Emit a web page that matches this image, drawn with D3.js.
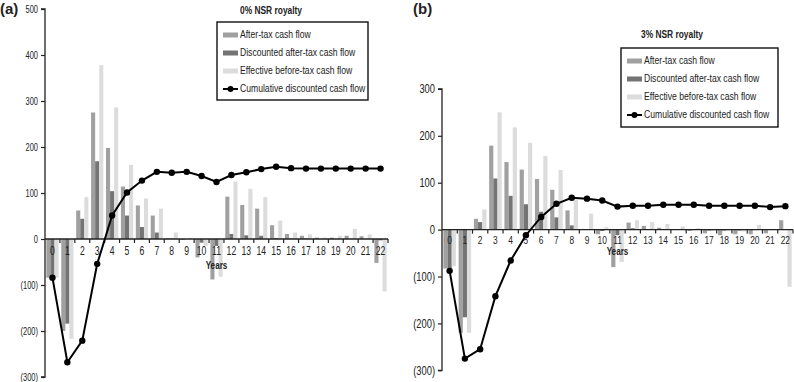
<!DOCTYPE html>
<html>
<head>
<meta charset="utf-8">
<script src="https://cdn.jsdelivr.net/npm/d3@7/dist/d3.min.js"></script>
<style>
  html, body { margin: 0; padding: 0; background: #fff; }
  svg { display: block; }
  text { font-family: "Liberation Sans", Arial, sans-serif; fill: #222; }
</style>
</head>
<body>
<svg id="chart" width="794" height="382"></svg>
<script>
const years = d3.range(0, 23).map(String);
const seriesNames = ["After-tax cash flow", "Discounted after-tax cash flow", "Effective before-tax cash flow", "Cumulative discounted cash flow"];
const seriesColors = ["#a0a0a0", "#747474", "#dcdcdc"];

// Panel (a): 0% NSR royalty
const a_afterTax   = [-84, -200, 62, 275, 198, 114, 73, 51, 2, -2, -40, -88, 92, 74, 66, 30, 11, 7, 3, 3, 7, 6, -52];
const a_discounted = [-80, -184, 44, 169, 104, 51, 26, 14, 1, 0, -8, -15, 11, 8, 7, 2, 1, 1, 0, 0, 0, 0, -3];
const a_effective  = [-84, -217, 91, 378, 286, 161, 88, 66, 14, 2, -15, -82, 125, 109, 91, 40, 14, 10, 3, 7, 22, 10, -114];
const a_cumulative = [-84, -268, -221, -54, 51, 101, 127, 146, 144, 146, 137, 124, 139, 145, 152, 157, 154, 153, 153, 153, 153, 153, 153];
const a_yTicks = [500, 400, 300, 200, 100, 0, -100, -200, -300];

// Panel (b): 3% NSR royalty
const b_afterTax   = [-83, -220, 23, 179, 144, 128, 108, 85, 41, -1, -10, -80, 15, 8, 4, 1, -3, -8, -12, -10, -10, -8, 20];
const b_discounted = [-83, -187, 16, 109, 72, 54, 38, 26, 9, 0, -3, -12, 3, 1, 1, 0, -1, -2, -2, -2, -1, -1, 1];
const b_effective  = [-78, -220, 43, 250, 218, 185, 157, 127, 64, 34, 5, -69, 20, 16, 12, 7, 3, -3, -2, -4, 10, 0, -122];
const b_cumulative = [-88, -275, -255, -142, -66, -12, 27, 55, 68, 66, 62, 49, 51, 51, 53, 53, 53, 51, 51, 51, 51, 48, 50];
const b_yTicks = [300, 200, 100, 0, -100, -200, -300];

const svg = d3.select("#chart");

function fmt(v) { return v < 0 ? "(" + Math.abs(v) + ")" : String(v); }

// emulate a condensed face: scale each text horizontally about its anchor x
function condense(sel, factor) {
  sel.each(function () {
    const t = d3.select(this);
    const ax = +t.attr("x") || 0;
    t.attr("transform", `translate(${ax},0) scale(${factor},1) translate(${-ax},0)`);
  });
}

function drawPanel(cfg) {
  const g = svg.append("g");
  const x = d3.scaleBand().domain(years).range([cfg.x0, cfg.x1]).paddingInner(0.18).paddingOuter(0.09);
  const xs = d3.scaleBand().domain([0, 1, 2]).range([0, x.bandwidth()]);
  const y = d3.scaleLinear().domain([cfg.yMin, cfg.yMax]).range([cfg.yBottom, cfg.yTop]);
  const step = x.step();
  const left = cfg.x0;

  // bars
  const series = [cfg.afterTax, cfg.discounted, cfg.effective];
  series.forEach((vals, si) => {
    g.append("g").selectAll("rect").data(vals).join("rect")
      .attr("x", (d, i) => x(years[i]) + xs(si))
      .attr("width", xs.bandwidth())
      .attr("y", d => y(Math.max(0, d)))
      .attr("height", d => Math.abs(y(d) - y(0)))
      .attr("fill", seriesColors[si]);
  });

  // y axis
  const yAxis = d3.axisLeft(y).tickValues(cfg.yTicks).tickFormat(fmt).tickSize(4).tickPadding(3);
  const ya = g.append("g").attr("transform", `translate(${left},0)`).call(yAxis);
  ya.select(".domain").attr("stroke", "#222").attr("stroke-width", 1.3).attr("d", `M-4,${y(cfg.yMax)}H0V${y(cfg.yMin)}H-4`);
  ya.selectAll(".tick line").attr("stroke", "#222").attr("stroke-width", 1.2);
  ya.selectAll(".tick text").style("font-size", cfg.yFont + "px").style("font-family", "'Liberation Sans', Arial, sans-serif").attr("fill", "#222")
    .call(condense, 0.75);

  // x axis at zero
  const y0 = y(0);
  g.append("line").attr("x1", left).attr("x2", cfg.x1).attr("y1", y0).attr("y2", y0)
    .attr("stroke", "#222").attr("stroke-width", 1.4);
  const bounds = d3.range(1, years.length + 1).map(i => left + i * step);
  g.append("g").selectAll("line").data(bounds).join("line")
    .attr("x1", d => d).attr("x2", d => d).attr("y1", y0).attr("y2", y0 + 4)
    .attr("stroke", "#222").attr("stroke-width", 1.2);
  g.append("g").selectAll("text").data(years).join("text")
    .attr("x", d => x(d) + x.bandwidth() / 2)
    .attr("y", y0 + cfg.xLabelDy)
    .attr("text-anchor", "middle")
    .attr("dominant-baseline", "middle")
    .style("font-size", cfg.xFont + "px")
    .text(d => d)
    .call(condense, cfg.xCond);
  g.append("text").attr("x", (cfg.x0 + cfg.x1) / 2).attr("y", y0 + cfg.yearsDy)
    .attr("text-anchor", "middle").attr("dominant-baseline", "middle")
    .style("font-size", "11px").style("font-weight", "bold").attr("fill", "#111").text("Years")
    .call(condense, 0.74);

  // cumulative line
  const line = d3.line().x((d, i) => x(years[i]) + x.bandwidth() / 2).y(d => y(d));
  g.append("path").datum(cfg.cumulative).attr("d", line)
    .attr("fill", "none").attr("stroke", "#000").attr("stroke-width", 2);
  g.append("g").selectAll("circle").data(cfg.cumulative).join("circle")
    .attr("cx", (d, i) => x(years[i]) + x.bandwidth() / 2).attr("cy", d => y(d)).attr("r", 3.2)
    .attr("fill", "#000");

  // panel label
  svg.append("text").attr("x", cfg.labelX).attr("y", cfg.labelY).attr("dominant-baseline", "middle")
    .style("font-size", "15px").style("font-weight", "bold").attr("fill", "#000").text(cfg.label);

  // legend
  const L = cfg.legend;
  svg.append("text").attr("x", L.titleX).attr("y", L.titleY).attr("text-anchor", "middle")
    .attr("dominant-baseline", "middle").style("font-size", "10.5px").style("font-weight", "bold")
    .attr("fill", "#111").text(cfg.title).call(condense, 0.8);
  svg.append("rect").attr("x", L.x).attr("y", L.y).attr("width", L.w).attr("height", L.h)
    .attr("fill", "#fff").attr("stroke", "#111").attr("stroke-width", 1.4);
  seriesNames.forEach((name, i) => {
    const ry = L.y + L.first + i * L.gap;
    if (i < 3) {
      svg.append("rect").attr("x", L.x + 6).attr("y", ry - 2.5).attr("width", 15).attr("height", 5)
        .attr("fill", seriesColors[i]);
    } else {
      svg.append("line").attr("x1", L.x + 6).attr("x2", L.x + 21).attr("y1", ry).attr("y2", ry)
        .attr("stroke", "#000").attr("stroke-width", 2);
      svg.append("circle").attr("cx", L.x + 13.5).attr("cy", ry).attr("r", 3).attr("fill", "#000");
    }
    svg.append("text").attr("x", L.x + 23).attr("y", ry).attr("dominant-baseline", "middle")
      .style("font-size", "10.5px").attr("fill", "#222").text(name).call(condense, 0.82);
  });
}

drawPanel({
  x0: 45, x1: 388, yMin: -300, yMax: 500, yBottom: 377, yTop: 9,
  afterTax: a_afterTax, discounted: a_discounted, effective: a_effective, cumulative: a_cumulative,
  yTicks: a_yTicks, yFont: 10, xFont: 12, xCond: 0.72, xLabelDy: 13, yearsDy: 27,
  label: "(a)", labelX: 0, labelY: 10, title: "0% NSR royalty",
  legend: { x: 217, y: 22, w: 151, h: 78, titleX: 271, titleY: 11, first: 13, gap: 18 }
});

drawPanel({
  x0: 442, x1: 793, yMin: -300, yMax: 300, yBottom: 370.3, yTop: 88.9,
  afterTax: b_afterTax, discounted: b_discounted, effective: b_effective, cumulative: b_cumulative,
  yTicks: b_yTicks, yFont: 12.5, xFont: 10.5, xCond: 0.8, xLabelDy: 12, yearsDy: 23,
  label: "(b)", labelX: 413, labelY: 10, title: "3% NSR royalty",
  legend: { x: 621, y: 48, w: 157, h: 79, titleX: 672, titleY: 35, first: 13, gap: 18 }
});
</script>
</body>
</html>
